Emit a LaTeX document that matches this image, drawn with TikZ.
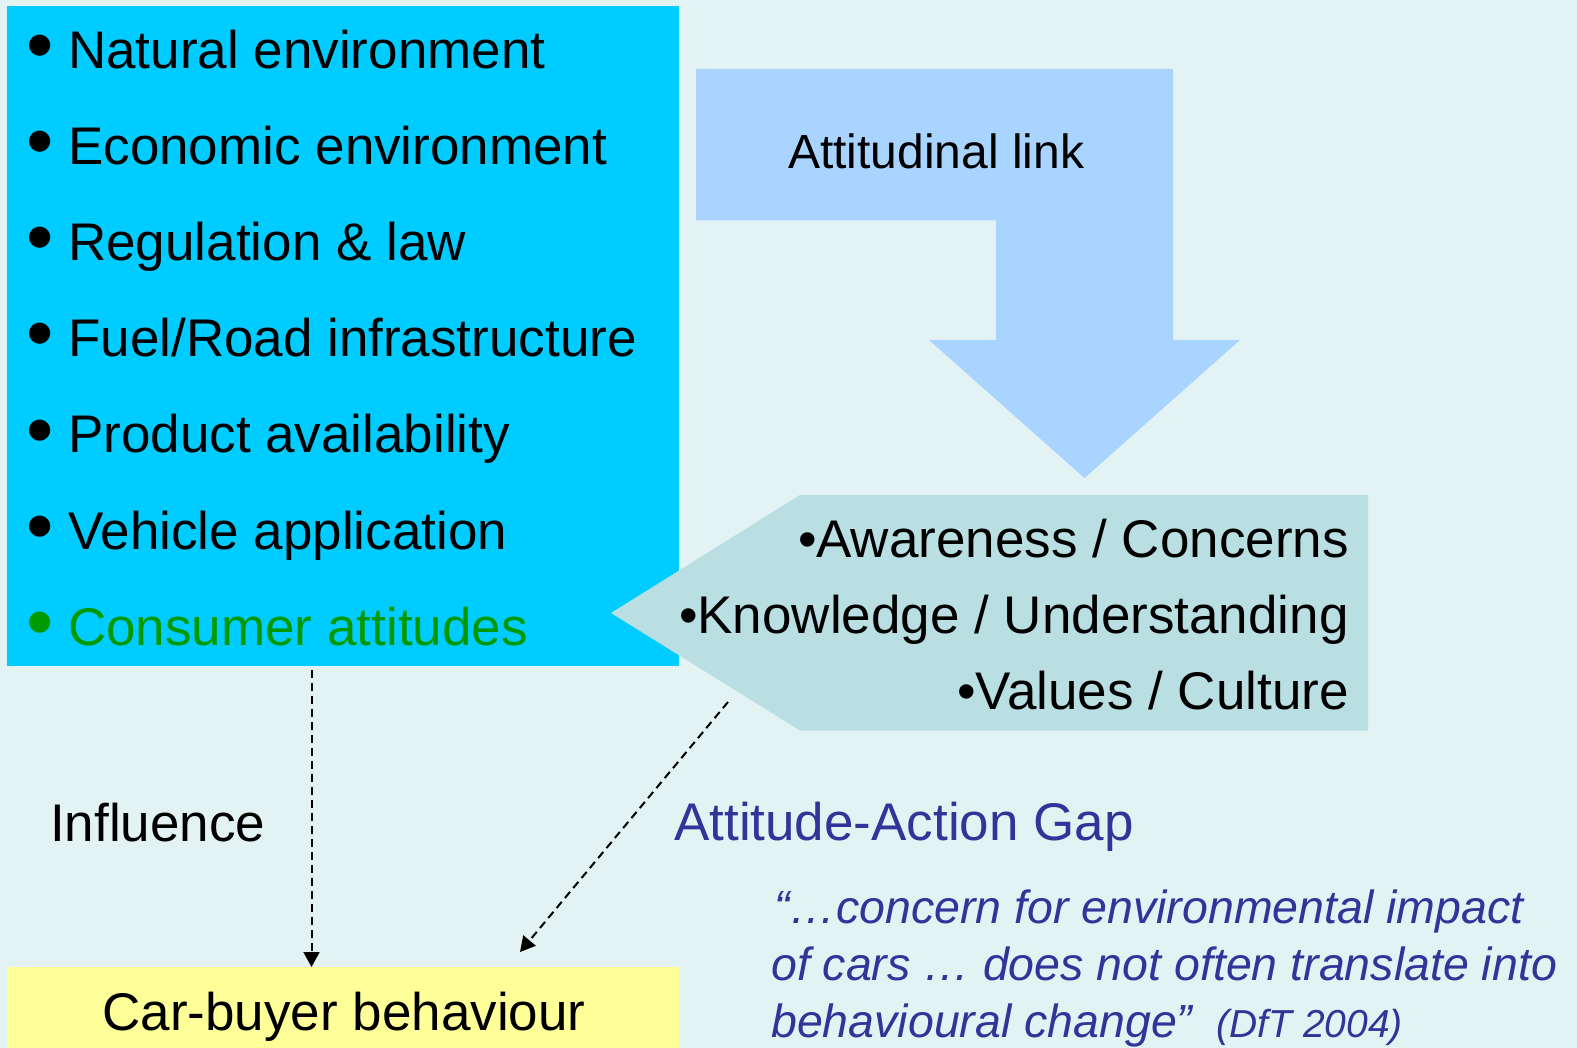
\documentclass[tikz,border=0pt]{standalone}
\usepackage{fontspec}
\setmainfont{Liberation Sans}
\usetikzlibrary{arrows.meta}
\definecolor{bg}{HTML}{E3F3F3}
\definecolor{boxblue}{HTML}{00CCFF}
\definecolor{arrowblue}{HTML}{A8D4FF}
\definecolor{tealbox}{HTML}{B9DFE3}
\definecolor{carbox}{HTML}{FFFF99}
\definecolor{attgreen}{HTML}{009900}
\definecolor{quoteblue}{HTML}{333399}
\newcommand{\mybul}{\llap{\raisebox{-3pt}{\fontsize{78}{78}\selectfont •}\hspace{14pt}}}
\begin{document}
\begin{tikzpicture}[x=1pt,y=-1pt,
  item/.style={anchor=base west, inner sep=0pt, font=\fontsize{53}{64}\selectfont},
  attr/.style={anchor=base east, inner sep=0pt, font=\fontsize{53}{64}\selectfont},
  quoteline/.style={anchor=base west, inner sep=0pt, text=quoteblue, font=\fontsize{46.5}{57}\selectfont\itshape},
  plainbox/.style={anchor=north west, inner sep=0pt, outer sep=0pt},
  dasharrow/.style={draw=black, line width=2pt, dash pattern=on 8pt off 5pt, -{Triangle[length=15pt,width=16pt]}}
]
\fill[bg] (0,0) rectangle (1577,1048);
\useasboundingbox (0,0) rectangle (1577,1048);

% factor box
\node[plainbox, fill=boxblue, minimum width=672pt, minimum height=660pt] (factors) at (7,6) {};
\node[item] (i1) at (68,69) {\mybul Natural environment};
\node[item] (i2) at (68,165) {\mybul Economic environment};
\node[item] (i3) at (68,261) {\mybul Regulation \& law};
\node[item] (i4) at (68,357) {\mybul Fuel/Road infrastructure};
\node[item] (i5) at (68,453) {\mybul Product availability};
\node[item] (i6) at (68,549) {\mybul Vehicle application};
\node[item, text=attgreen] (i7) at (68,645) {\mybul Consumer attitudes};

% attitude pentagon
\fill[tealbox] (800,495) -- (1368,495) -- (1368,730.5) -- (800,730.5) -- (611,613) -- cycle;
\node[attr] (a1) at (1349,557) {•Awareness / Concerns};
\node[attr] (a2) at (1349,633) {•Knowledge / Understanding};
\node[attr] (a3) at (1349,709) {•Values / Culture};

% attitudinal link arrow
\fill[arrowblue] (696,69) -- (1173,69) -- (1173,340) -- (1240,340) -- (1084.5,478) -- (929,340) -- (996,340) -- (996,220.3) -- (696,220.3) -- cycle;
\node[anchor=base west, inner sep=0pt, font=\fontsize{48}{58}\selectfont] (link) at (788,169) {Attitudinal link};

% car buyer box
\node[plainbox, fill=carbox, minimum width=672pt, minimum height=82pt] (buyer) at (7,967) {};
\node[anchor=base, inner sep=0pt, font=\fontsize{53}{64}\selectfont] (buyerlabel) at (344,1030) {Car-buyer behaviour};

% labels
\node[anchor=base west, inner sep=0pt, font=\fontsize{53}{64}\selectfont] (influence) at (50,841) {Influence};
\node[anchor=base west, inner sep=0pt, text=quoteblue, font=\fontsize{53}{64}\selectfont] (gap) at (674,840) {Attitude-Action Gap};
\node[quoteline] (q1) at (774,923) {“…concern for environmental impact};
\node[quoteline] (q2) at (771,980) {of cars … does not often translate into};
\node[quoteline] (q3) at (771,1037) {behavioural change”\hspace{24pt}{\fontsize{39}{44}\selectfont(DfT 2004)}};

% connectors
\coordinate (inflA) at (311.5,670);
\draw[dasharrow] (inflA) -- (inflA |- buyer.north);
\coordinate (gapA) at (728,702);
\coordinate (gapB) at (520,952);
\draw[dasharrow] (gapA) -- (gapB);
\end{tikzpicture}
\end{document}
